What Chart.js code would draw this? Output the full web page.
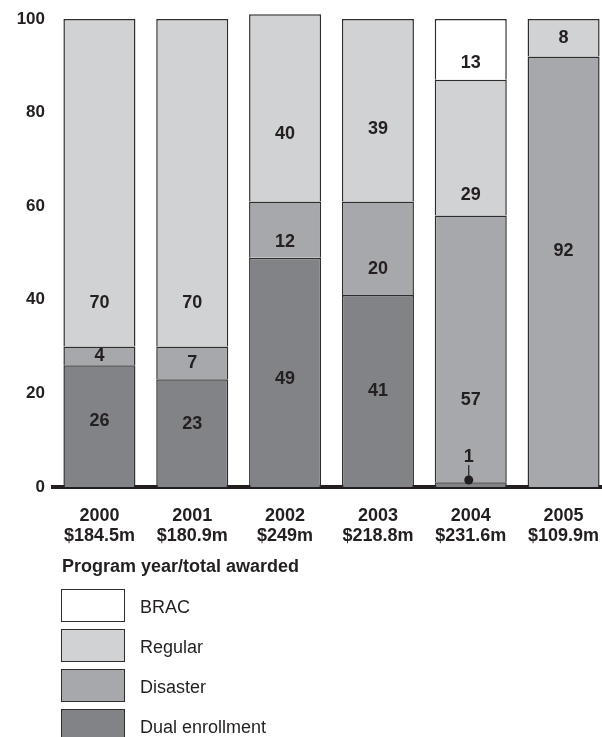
<!DOCTYPE html>
<html>
<head>
<meta charset="utf-8">
<script src="https://cdn.jsdelivr.net/npm/chart.js@4.4.1/dist/chart.umd.min.js"></script>
<style>
  html, body { margin: 0; padding: 0; background: #fff; overflow: hidden; }
  body { width: 602px; height: 737px; position: relative; font-family: "Liberation Sans", Arial, sans-serif; color: #231f20; }
  .wrap { position: absolute; left: 0; top: 0; width: 620px; height: 560px; }
  .legend-title { position: absolute; left: 62px; top: 556px; font-weight: bold; font-size: 18px; }
  .key { position: absolute; left: 61px; width: 62px; height: 31px; border: 1.5px solid #2e2e2e; }
  .key-text { position: absolute; left: 140px; font-size: 18px; line-height: 20px; }
</style>
</head>
<body>
<div class="wrap"><canvas id="myChart"></canvas></div>

<div class="legend-title">Program year/total awarded</div>
<div class="key" style="top:589px;background:#ffffff"></div><div class="key-text" style="top:597px">BRAC</div>
<div class="key" style="top:629px;background:#d1d2d4"></div><div class="key-text" style="top:637px">Regular</div>
<div class="key" style="top:669px;background:#a7a8ab"></div><div class="key-text" style="top:677px">Disaster</div>
<div class="key" style="top:709px;background:#828387"></div><div class="key-text" style="top:717px">Dual enrollment</div>

<script>
const years = ['2000', '2001', '2002', '2003', '2004', '2005'];
const awarded = ['$184.5m', '$180.9m', '$249m', '$218.8m', '$231.6m', '$109.9m'];
const yTicks = [0, 20, 40, 60, 80, 100];

const dual     = [26, 23, 49, 41, 1, null];
const disaster = [4, 7, 12, 20, 57, 92];
const regular  = [70, 70, 40, 39, 29, 8];
const brac     = [null, null, null, null, 13, null];

const ink = '#231f20';
const font = '"Liberation Sans", Arial, sans-serif';

// label nudges in pixels, keyed "dataset:index" (text is not always centred in the reference)
const nudge = {
  '0:0': -5, '0:1': -9, '0:2': 7,
  '1:2': 12, '1:3': 21, '1:4': 51, '1:5': -21,
  '2:0': 120, '2:1': 120, '2:2': 26, '2:3': 19, '2:4': 47,
  '3:4': 14
};

const segLabels = {
  id: 'segLabels',
  afterDatasetsDraw(chart) {
    const c = chart.ctx;
    c.save();
    c.fillStyle = ink;
    c.strokeStyle = ink;
    c.font = 'bold 18px ' + font;
    c.textAlign = 'center';
    c.textBaseline = 'middle';
    chart.data.datasets.forEach((ds, di) => {
      chart.getDatasetMeta(di).data.forEach((bar, i) => {
        const v = ds.data[i];
        if (v == null) return;
        if (di === 0 && v < 3) {
          // call-out for the thin 2004 slice
          const x = bar.x - 2;
          const yd = bar.base - 7;
          c.fillText(String(v), x, yd - 23);
          c.lineWidth = 1.2;
          c.beginPath();
          c.moveTo(x, yd - 15);
          c.lineTo(x, yd);
          c.stroke();
          c.beginPath();
          c.arc(x, yd, 4.5, 0, Math.PI * 2);
          c.fill();
          return;
        }
        const y = (bar.y + bar.base) / 2 + (nudge[di + ':' + i] || 0);
        c.fillText(String(v), bar.x, y);
      });
    });
    c.restore();
  }
};

const ctx = document.getElementById('myChart');
const edge = '#2e2e2e';

new Chart(ctx, {
  type: 'bar',
  data: {
    labels: years.map((y, i) => [y, awarded[i]]),
    datasets: [
      { label: 'Dual enrollment', data: dual, backgroundColor: '#828387' },
      { label: 'Disaster', data: disaster, backgroundColor: '#a7a8ab' },
      { label: 'Regular', data: regular, backgroundColor: '#d1d2d4' },
      { label: 'BRAC', data: brac, backgroundColor: '#ffffff' }
    ].map(d => Object.assign(d, {
      borderColor: edge,
      borderWidth: 1.5,
      borderSkipped: 'bottom',
      barPercentage: 0.776,
      categoryPercentage: 1,
      clip: false
    }))
  },
  options: {
    responsive: true,
    maintainAspectRatio: false,
    animation: false,
    layout: { padding: { top: 19, right: 10, bottom: 0, left: 0 } },
    plugins: {
      legend: { display: false },
      tooltip: { enabled: false },
      title: { display: false }
    },
    scales: {
      x: {
        stacked: true,
        z: 1,
        grid: { display: false, drawTicks: false },
        border: { display: true, color: ink, width: 4 },
        ticks: {
          color: ink,
          padding: 19,
          maxRotation: 0,
          autoSkip: false,
          font: { family: font, size: 18, weight: 'bold', lineHeight: 1.1 }
        },
        afterFit(s) { s.height = 73; }
      },
      y: {
        stacked: true,
        min: 0,
        max: 100,
        grid: { display: false, drawTicks: false },
        border: { display: false },
        afterBuildTicks(s) { s.ticks = yTicks.map(v => ({ value: v })); },
        ticks: {
          color: ink,
          padding: 8,
          font: { family: font, size: 17, weight: 'bold' }
        },
        afterFit(s) { s.width = 53; }
      }
    }
  },
  plugins: [segLabels]
});
</script>
</body>
</html>
